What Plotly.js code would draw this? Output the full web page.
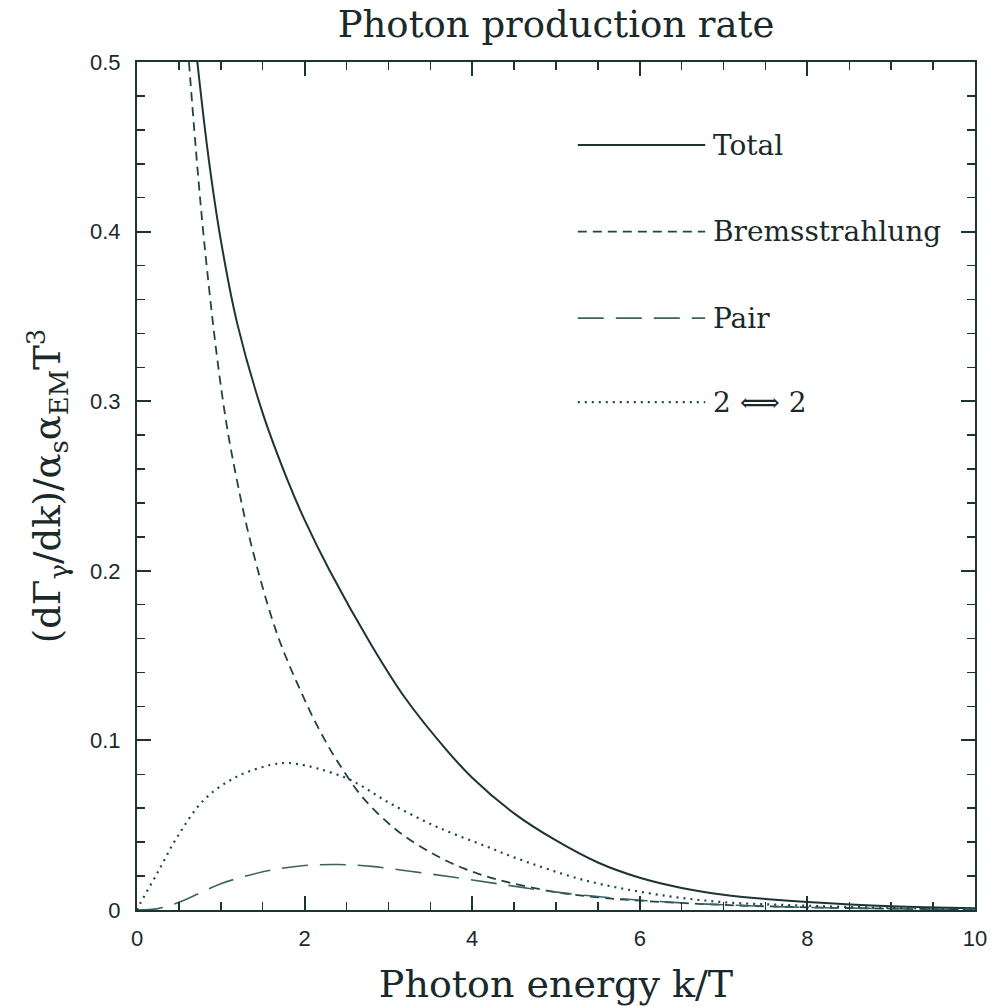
<!DOCTYPE html>
<html>
<head>
<meta charset="utf-8">
<script src="https://cdn.plot.ly/plotly-3.0.1.min.js"></script>
<style>html,body{margin:0;padding:0;background:#fff;}#chart{width:991px;height:1006px;}</style>
</head>
<body>
<div id="chart"></div>
<script>
// ---- data ----
const totalK   = [0.72, 0.85, 1.0, 1.2, 1.5, 1.8, 2.0, 2.3, 2.8, 3.2, 3.7, 4.0, 4.5, 5.0, 5.5, 6.0, 6.5, 7.0, 7.5, 8.0, 9.0, 10.0];
const totalY   = [0.500, 0.445, 0.395, 0.345, 0.293, 0.253, 0.230, 0.200, 0.156, 0.125, 0.094, 0.078, 0.057, 0.041, 0.028, 0.019, 0.013, 0.009, 0.0065, 0.0047, 0.0022, 0.001];

const bremK    = [0.62, 0.70, 0.80, 0.95, 1.07, 1.17, 1.35, 1.67, 2.0, 2.2, 2.4, 2.7, 3.1, 3.5, 3.9, 4.3, 5.0, 5.5, 6.0, 7.0, 8.0, 9.0, 10.0];
const bremY    = [0.500, 0.450, 0.395, 0.328, 0.286, 0.259, 0.218, 0.163, 0.124, 0.104, 0.087, 0.066, 0.047, 0.034, 0.0245, 0.018, 0.0105, 0.0075, 0.0055, 0.003, 0.0016, 0.0008, 0.0004];

const pairK    = [0.0, 0.25, 0.5, 0.75, 1.0, 1.3, 1.6, 2.0, 2.4, 2.8, 3.26, 3.74, 4.3, 4.93, 5.72, 6.5, 7.3, 8.0, 9.0, 10.0];
const pairY    = [0.0, 0.0008, 0.0045, 0.010, 0.0155, 0.020, 0.0235, 0.0262, 0.0268, 0.0257, 0.0228, 0.0196, 0.0155, 0.011, 0.0069, 0.0042, 0.0025, 0.0015, 0.0008, 0.0004];

const twoK     = [0.0, 0.04, 0.24, 0.48, 0.80, 1.19, 1.59, 1.77, 1.91, 2.15, 2.55, 3.02, 3.58, 4.18, 4.53, 5.33, 6.12, 6.92, 7.71, 8.5, 9.3, 10.0];
const twoY     = [0.0, 0.004, 0.0216, 0.043, 0.065, 0.0786, 0.0855, 0.0867, 0.0861, 0.0835, 0.0766, 0.0629, 0.049, 0.0373, 0.0305, 0.0177, 0.0098, 0.0049, 0.003, 0.0018, 0.001, 0.0005];

const seriesNames = ['Total', 'Bremsstrahlung', 'Pair', '2 \u27FA 2'];
const xTickVals = [0, 2, 4, 6, 8, 10];
const yTickVals = [0, 0.1, 0.2, 0.3, 0.4, 0.5];
const yTickText = ['0', '0.1', '0.2', '0.3', '0.4', '0.5'];

// ---- styling ----
const ink = '#1d3434';
const textInk = '#1a2a2a';
const serifFont = 'DejaVu Serif, serif';
const dashes = ['solid', '9px,6px', '26px,12px', '2px,5px'];
const widths = [2, 1.8, 1.6, 2.2];
const colors = [ink, '#1f4444', '#3d6262', '#1f4848'];

const xs = [totalK, bremK, pairK, twoK];
const ys = [totalY, bremY, pairY, twoY];

const traces = xs.map((x, i) => ({
  x: x, y: ys[i], type: 'scatter', mode: 'lines', name: seriesNames[i],
  line: {color: colors[i], width: widths[i], dash: dashes[i], shape: 'spline', smoothing: 1.0},
  showlegend: false, hoverinfo: 'skip'
}));

// legend drawn as keys inside the plot
const legY = [0.902, 0.800, 0.698, 0.599];
const shapes = legY.map((y, i) => ({
  type: 'line', xref: 'paper', yref: 'paper', x0: 0.526, x1: 0.678, y0: y, y1: y,
  line: {color: colors[i], width: widths[i], dash: dashes[i]}
}));
const annotations = legY.map((y, i) => ({
  xref: 'paper', yref: 'paper', x: 0.685, y: y, xanchor: 'left', yanchor: 'middle',
  text: seriesNames[i], showarrow: false,
  font: {family: serifFont, size: 28, color: textInk}
}));

const axisCommon = {
  showline: true, linecolor: ink, linewidth: 2, mirror: 'allticks',
  ticks: 'inside', ticklen: 14, tickwidth: 2, tickcolor: ink,
  showgrid: false, zeroline: false,
  tickfont: {family: 'Liberation Sans, Arial, sans-serif', size: 22, color: textInk}
};

const layout = {
  width: 991, height: 1006,
  margin: {l: 137, r: 16, t: 62, b: 96},
  paper_bgcolor: '#fff', plot_bgcolor: '#fff',
  title: {text: 'Photon production rate', x: 0.5, xref: 'paper', y: 0.976, yref: 'container', yanchor: 'middle',
          font: {family: serifFont, size: 37, color: textInk}},
  xaxis: Object.assign({}, axisCommon, {
    range: [0, 10], tickvals: xTickVals, ticktext: xTickVals.map(String), ticklabelstandoff: 8,
    minor: {dtick: 0.5, ticks: 'inside', ticklen: 8, tickwidth: 1.5, tickcolor: ink},
    title: {text: 'Photon energy k/T', standoff: 20, font: {family: serifFont, size: 38, color: textInk}}
  }),
  yaxis: Object.assign({}, axisCommon, {
    range: [0, 0.5], tickvals: yTickVals, ticktext: yTickText, ticklabelstandoff: 10,
    minor: {dtick: 0.02, ticks: 'inside', ticklen: 8, tickwidth: 1.5, tickcolor: ink},
    title: {text: '(d\u0393<sub>\u03B3</sub>/dk)/\u03B1<sub>s</sub>\u03B1<sub>EM</sub>T<sup>3</sup>', standoff: 18,
            font: {family: serifFont, size: 37, color: textInk}}
  }),
  shapes: shapes,
  annotations: annotations
};

Plotly.newPlot('chart', traces, layout, {displayModeBar: false, staticPlot: true});
</script>
</body>
</html>
